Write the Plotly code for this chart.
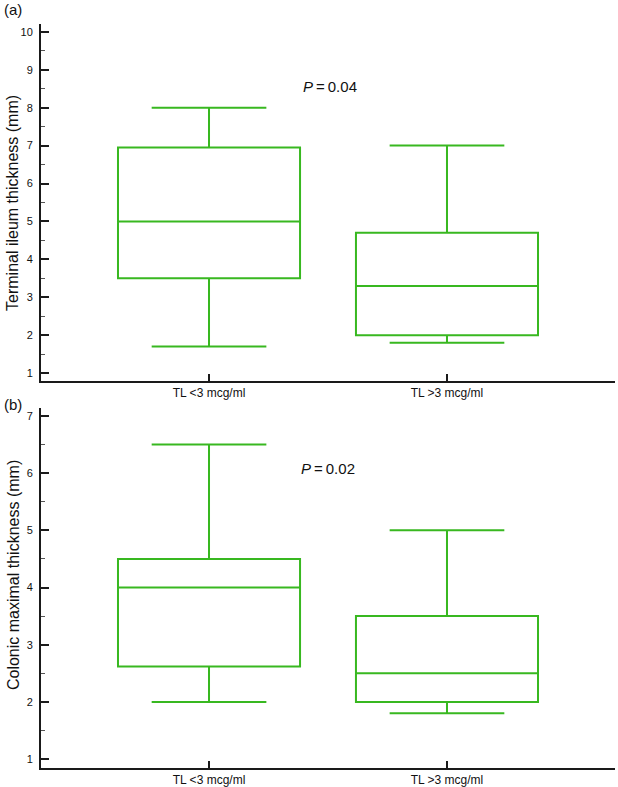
import plotly.graph_objects as go

categories = ["TL <3 mcg/ml", "TL >3 mcg/ml"]

# Panel (a): Terminal ileum thickness (mm)
a_min = [1.7, 1.8]
a_q1 = [3.5, 2.0]
a_med = [5.0, 3.3]
a_q3 = [6.95, 4.7]
a_max = [8.0, 7.0]

# Panel (b): Colonic maximal thickness (mm)
b_min = [2.0, 1.8]
b_q1 = [2.62, 2.0]
b_med = [4.0, 2.5]
b_q3 = [4.5, 3.5]
b_max = [6.5, 5.0]

p_texts = ["<i>P</i>\u2009=\u20090.04", "<i>P</i>\u2009=\u20090.02"]
y_titles = ["Terminal ileum thickness (mm)", "Colonic maximal thickness (mm)"]

GREEN = "#38b820"
FONT = "Liberation Sans, Arial, sans-serif"

fig = go.Figure()

fig.add_trace(go.Box(
    x=categories, lowerfence=a_min, q1=a_q1, median=a_med, q3=a_q3, upperfence=a_max,
    xaxis="x", yaxis="y", width=0.765, whiskerwidth=0.63,
    line=dict(color=GREEN, width=2), fillcolor="rgba(0,0,0,0)",
    boxpoints=False, showlegend=False, hoverinfo="skip"))

fig.add_trace(go.Box(
    x=categories, lowerfence=b_min, q1=b_q1, median=b_med, q3=b_q3, upperfence=b_max,
    xaxis="x2", yaxis="y2", width=0.765, whiskerwidth=0.63,
    line=dict(color=GREEN, width=2), fillcolor="rgba(0,0,0,0)",
    boxpoints=False, showlegend=False, hoverinfo="skip"))

W, H = 618, 787
xdom = [41 / W, 615 / W]
common_x = dict(
    domain=xdom, range=[-0.706, 1.706], showline=True, linecolor="#1a1a1a", linewidth=2,
    ticks="inside", ticklen=7, tickwidth=2, tickcolor="#1a1a1a", showgrid=False, zeroline=False,
    tickfont=dict(family=FONT, size=12, color="#111"), fixedrange=True,
)
common_y = dict(
    showline=True, linecolor="#1a1a1a", linewidth=2, ticks="inside", ticklen=8, tickwidth=2,
    tickcolor="#1a1a1a", showgrid=False, zeroline=False, dtick=1,
    tickfont=dict(family=FONT, size=11, color="#111"), ticklabelstandoff=4,
    minor=dict(ticks="inside", ticklen=4, tickwidth=1, tickcolor="#555", dtick=0.5, showgrid=False),
)

fig.update_layout(
    width=W, height=H, margin=dict(l=0, r=0, t=0, b=0),
    paper_bgcolor="white", plot_bgcolor="white",
    font=dict(family=FONT, color="#111"),
    xaxis=dict(**common_x, anchor="y"),
    yaxis=dict(**common_y, domain=[(H - 383) / H, (H - 24) / H], range=[0.79, 10.21], anchor="x",
               tickvals=list(range(1, 11))),
    xaxis2=dict(**common_x, anchor="y2"),
    yaxis2=dict(**common_y, domain=[(H - 772) / H, (H - 410) / H], range=[0.843, 7.14], anchor="x2",
                tickvals=list(range(1, 8))),
)

annotations = [
    dict(text=p_texts[0], x=0.508, y=8.56, xref="x", yref="y", showarrow=False,
         font=dict(family=FONT, size=15, color="#111")),
    dict(text=p_texts[1], x=0.5, y=6.08, xref="x2", yref="y2", showarrow=False,
         font=dict(family=FONT, size=15, color="#111")),
    dict(text="(a)", x=2 / W, y=1 - 10 / H, xref="paper", yref="paper", xanchor="left", yanchor="middle",
         showarrow=False, font=dict(family=FONT, size=15, color="#111")),
    dict(text="(b)", x=2 / W, y=1 - 407 / H, xref="paper", yref="paper", xanchor="left", yanchor="middle",
         showarrow=False, font=dict(family=FONT, size=15, color="#111")),
    dict(text=y_titles[0], x=13 / W, y=1 - 204 / H, xref="paper", yref="paper", textangle=-90,
         xanchor="center", yanchor="middle",
         showarrow=False, font=dict(family=FONT, size=16, color="#111")),
    dict(text=y_titles[1], x=13 / W, y=1 - 578 / H, xref="paper", yref="paper", textangle=-90,
         xanchor="center", yanchor="middle",
         showarrow=False, font=dict(family=FONT, size=16, color="#111")),
]
fig.update_layout(annotations=annotations)

fig.write_html(
    "out.html",
    config=dict(displayModeBar=False),
    post_script="document.body.style.margin='0';document.body.style.padding='0';",
)
